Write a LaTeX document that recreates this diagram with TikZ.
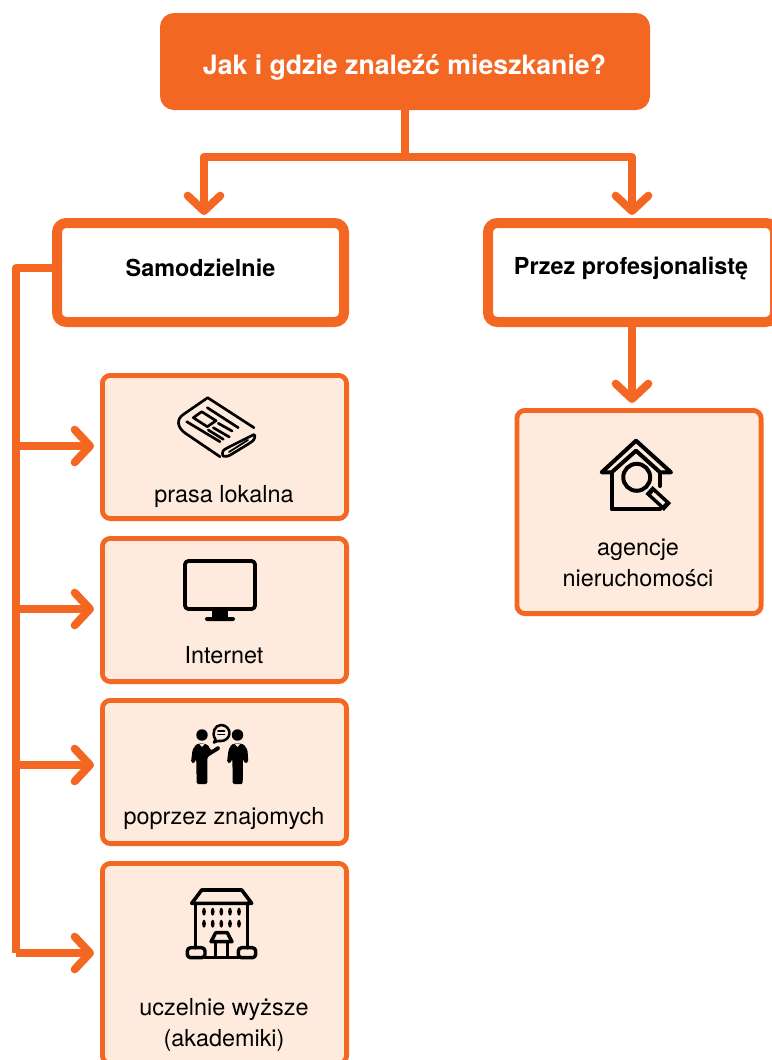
\documentclass[tikz,border=0pt]{standalone}
\usepackage{fontspec}
\setmainfont{TeX Gyre Heros}
\usetikzlibrary{arrows.meta}
\definecolor{orangeMain}{HTML}{F46723}
\definecolor{paleFill}{HTML}{FEEBDD}
\tikzset{
  titlebox/.style={draw=orangeMain,fill=orangeMain,line width=3pt,rounded corners=9pt,inner sep=0pt,outer sep=0pt},
  headbox/.style={draw=orangeMain,fill=white,line width=7.5pt,rounded corners=7pt,inner sep=0pt,outer sep=0pt,minimum height=74.25pt},
  headlabel/.style={inner sep=0pt,font=\fontsize{17.55}{20}\selectfont\bfseries},
  itembox/.style={draw=orangeMain,fill=paleFill,line width=3.6pt,rounded corners=6pt,inner sep=0pt,outer sep=0pt,minimum width=183.15pt},
  itemlabel/.style={inner sep=0pt,align=center,font=\fontsize{17.55}{23.3}\selectfont},
  flow/.style={draw=orangeMain,line width=6pt,line join=round},
  flowtip/.style={flow,-{Straight Barb[length=11.5pt,width=24.5pt,round,line width=6pt]}},
  icon/.style={draw=black,line width=2pt,line join=round,line cap=round},
  iconfill/.style={fill=black,draw=none}
}
\begin{document}
\begin{tikzpicture}[x=0.75pt,y=-0.75pt]
\useasboundingbox (0,0) rectangle (771,1060);
% main nodes
\node[titlebox,minimum width=364.5pt,minimum height=69.75pt] (top) at (405,61.5) {};
\node[inner sep=0pt,text=white,font=\fontsize{20}{24}\selectfont\bfseries] (toplabel) at (404.5,67) {Jak i gdzie znaleźć mieszkanie?};
\node[headbox,minimum width=215.25pt] (samo) at (200.5,272.5) {};
\node[headlabel] (samolabel) at (200.5,268) {Samodzielnie};
\node[headbox,minimum width=215.25pt] (prof) at (631.5,272.5) {};
\node[headlabel] (proflabel) at (631,268.5) {Przez profesjonalistę};
\node[itembox,minimum height=107.4pt] (b1) at (224.5,447) {};
\node[itembox,minimum height=107.4pt] (b2) at (224.5,610) {};
\node[itembox,minimum height=107.4pt] (b3) at (224.5,772) {};
\node[itembox,minimum height=150pt] (b4) at (224.5,963.4) {};
\node[itembox,minimum height=152.4pt] (b5) at (639,512) {};
\node[itemlabel] (l1) at (224,497) {prasa lokalna};
\node[itemlabel] (l2) at (224,655) {Internet};
\node[itemlabel] (l3) at (224,819) {poprzez znajomych};
\node[itemlabel] (l4) at (224,1024.5) {uczelnie wyższe\\(akademiki)};
\node[itemlabel] (l5) at (638,562.5) {agencje\\nieruchomości};
% connectors
\coordinate (split) at (405,157);
\coordinate (splitL) at (204,157);
\coordinate (splitR) at (632,157);
\coordinate (inL) at (204,215);
\coordinate (inR) at (632,215);
\coordinate (trunkTop) at (16,268);
\coordinate (t1) at (16,446);
\coordinate (t2) at (16,609);
\coordinate (t3) at (16,765);
\coordinate (t4) at (16,953);
\coordinate (e1) at (94,446);
\coordinate (e2) at (94,609);
\coordinate (e3) at (94,765);
\coordinate (e4) at (94,953);
\coordinate (profS) at (632,323);
\coordinate (profT) at (632,403);
\draw[flow] (top.south) -- (split);
\draw[flowtip] (split) -- (splitL) -- (inL);
\draw[flowtip] (split) -- (splitR) -- (inR);
\draw[flow] (samo.west |- trunkTop) -- (trunkTop) -- (t4);
\draw[flowtip] (t1) -- (e1);
\draw[flowtip] (t2) -- (e2);
\draw[flowtip] (t3) -- (e3);
\draw[flowtip] (t4) -- (e4);
\draw[flowtip] (profS) -- (profT);
% newspaper
\draw[icon] (220,456.7) -- (185,433) .. controls (177,427) and (176,419) .. (184,414) -- (207.7,397.7) -- (254,427.7);
\draw[icon,rounded corners=2.5pt] (254,434.5) -- (227,448) .. controls (222,451) and (222,456) .. (227,457) -- (250,443) .. controls (254,440) and (256,436) .. (254,434.5);
\draw[icon,line width=1.3pt] (229,452) -- (248,440);
\draw[icon] (186.7,421.7) -- (220,441.7);
\draw[icon] (207.3,407.7) -- (238.3,427.7);
\draw[icon] (218.3,423.3) -- (232,431);
\draw[icon] (213.3,427.7) -- (229.3,437);
\draw[icon] (208.3,430) -- (223.3,439.3);
\draw[icon] (193.3,417.7) -- (201.7,411.7) -- (216,420.7) -- (207.3,426.7) -- cycle;
% monitor
\draw[icon,line width=2.8pt,rounded corners=2.5pt] (185,561) rectangle (255,609);
\fill[iconfill] (211.7,609) rectangle (228.3,618);
\fill[iconfill,rounded corners=1.5pt] (205,617) rectangle (235,621);
% people
\fill[iconfill] (202,735) circle (4.3pt);
\fill[iconfill] (237.5,735) circle (4.3pt);
\fill[iconfill,rounded corners=1pt] (201.7,743) -- (196,744.5) -- (192.5,750) -- (191,762) -- (194,763.5) -- (196.2,759) -- (196.7,784) -- (207.3,784) -- (207.5,757) -- (210,755.5) -- (220.5,749) -- (218.5,745.5) -- (211,750.5) -- (208,745) -- cycle;
\fill[iconfill,rounded corners=1pt] (237.5,743) -- (231.5,744.5) -- (228.5,750) -- (227,762) -- (230,763.5) -- (232.4,759) -- (232.7,784) -- (242.7,784) -- (243,759) -- (245,763.5) -- (248.3,762) -- (247.5,750) -- (244,744.5) -- cycle;
\fill[paleFill] (199,743.5) -- (202,747) -- (205,743.5) -- cycle;
\fill[paleFill] (234.5,743.5) -- (237.5,747) -- (240.5,743.5) -- cycle;
\draw[icon,line width=1.9pt,fill=paleFill] (215.5,739.5) .. controls (211,733) and (215,725) .. (221,725) .. controls (227,725) and (229.5,730) .. (229.5,733) .. controls (229.5,738) and (225,741) .. (221,741) .. controls (219,741) and (217.5,740.5) .. (214,742.5) -- cycle;
\draw[icon,line width=1.3pt] (218,731) -- (224.5,731);
\draw[icon,line width=1.3pt] (218,734.5) -- (224.5,734.5);
% building
\draw[icon,line width=2.7pt] (191.7,903.3) -- (201.7,890) -- (241.7,890) -- (251.7,903.3) -- cycle;
\draw[icon,line width=2.6pt] (195.7,903.3) -- (195.7,948);
\draw[icon,line width=2.6pt] (247.3,903.3) -- (247.3,948);
\draw[icon,line width=2.6pt,rounded corners=2.5pt] (187.3,947.7) rectangle (205,957.7);
\draw[icon,line width=2.6pt,rounded corners=2.5pt] (238.3,947.7) rectangle (255.7,957.7);
\draw[icon,line width=2.6pt] (205,957.7) -- (238.3,957.7);
\draw[icon,line width=2.6pt] (211,941.7) -- (215.7,932.7) -- (227.3,932.7) -- (232,941.7) -- cycle;
\draw[icon,line width=2.6pt] (215.7,941.7) -- (215.7,957);
\draw[icon,line width=2.6pt] (227.3,941.7) -- (227.3,957);
\foreach \wx in {204,212.7,221.3,230,239} \foreach \wy in {911.7,923.7}
  \fill[iconfill] (\wx,\wy) ellipse (1.4pt and 3pt);
% house
\draw[icon,line width=3pt] (601.7,472.3) -- (636,440.7) -- (671,472.3) -- (660,472.3) -- (636,450.7) -- (611.7,472.3) -- cycle;
\draw[icon,line width=3pt] (611.7,472.3) -- (611.7,509.3) -- (660,509.3);
\draw[icon,line width=3pt] (660,472.3) -- (660,486);
\draw[icon,line width=3pt] (636.7,477.3) circle (10.1pt);
\draw[draw=black,line width=8pt] (649,490) -- (667.5,507);
\draw[draw=paleFill,line width=2.6pt] (652.5,493.3) -- (664,503.8);
\end{tikzpicture}
\end{document}
